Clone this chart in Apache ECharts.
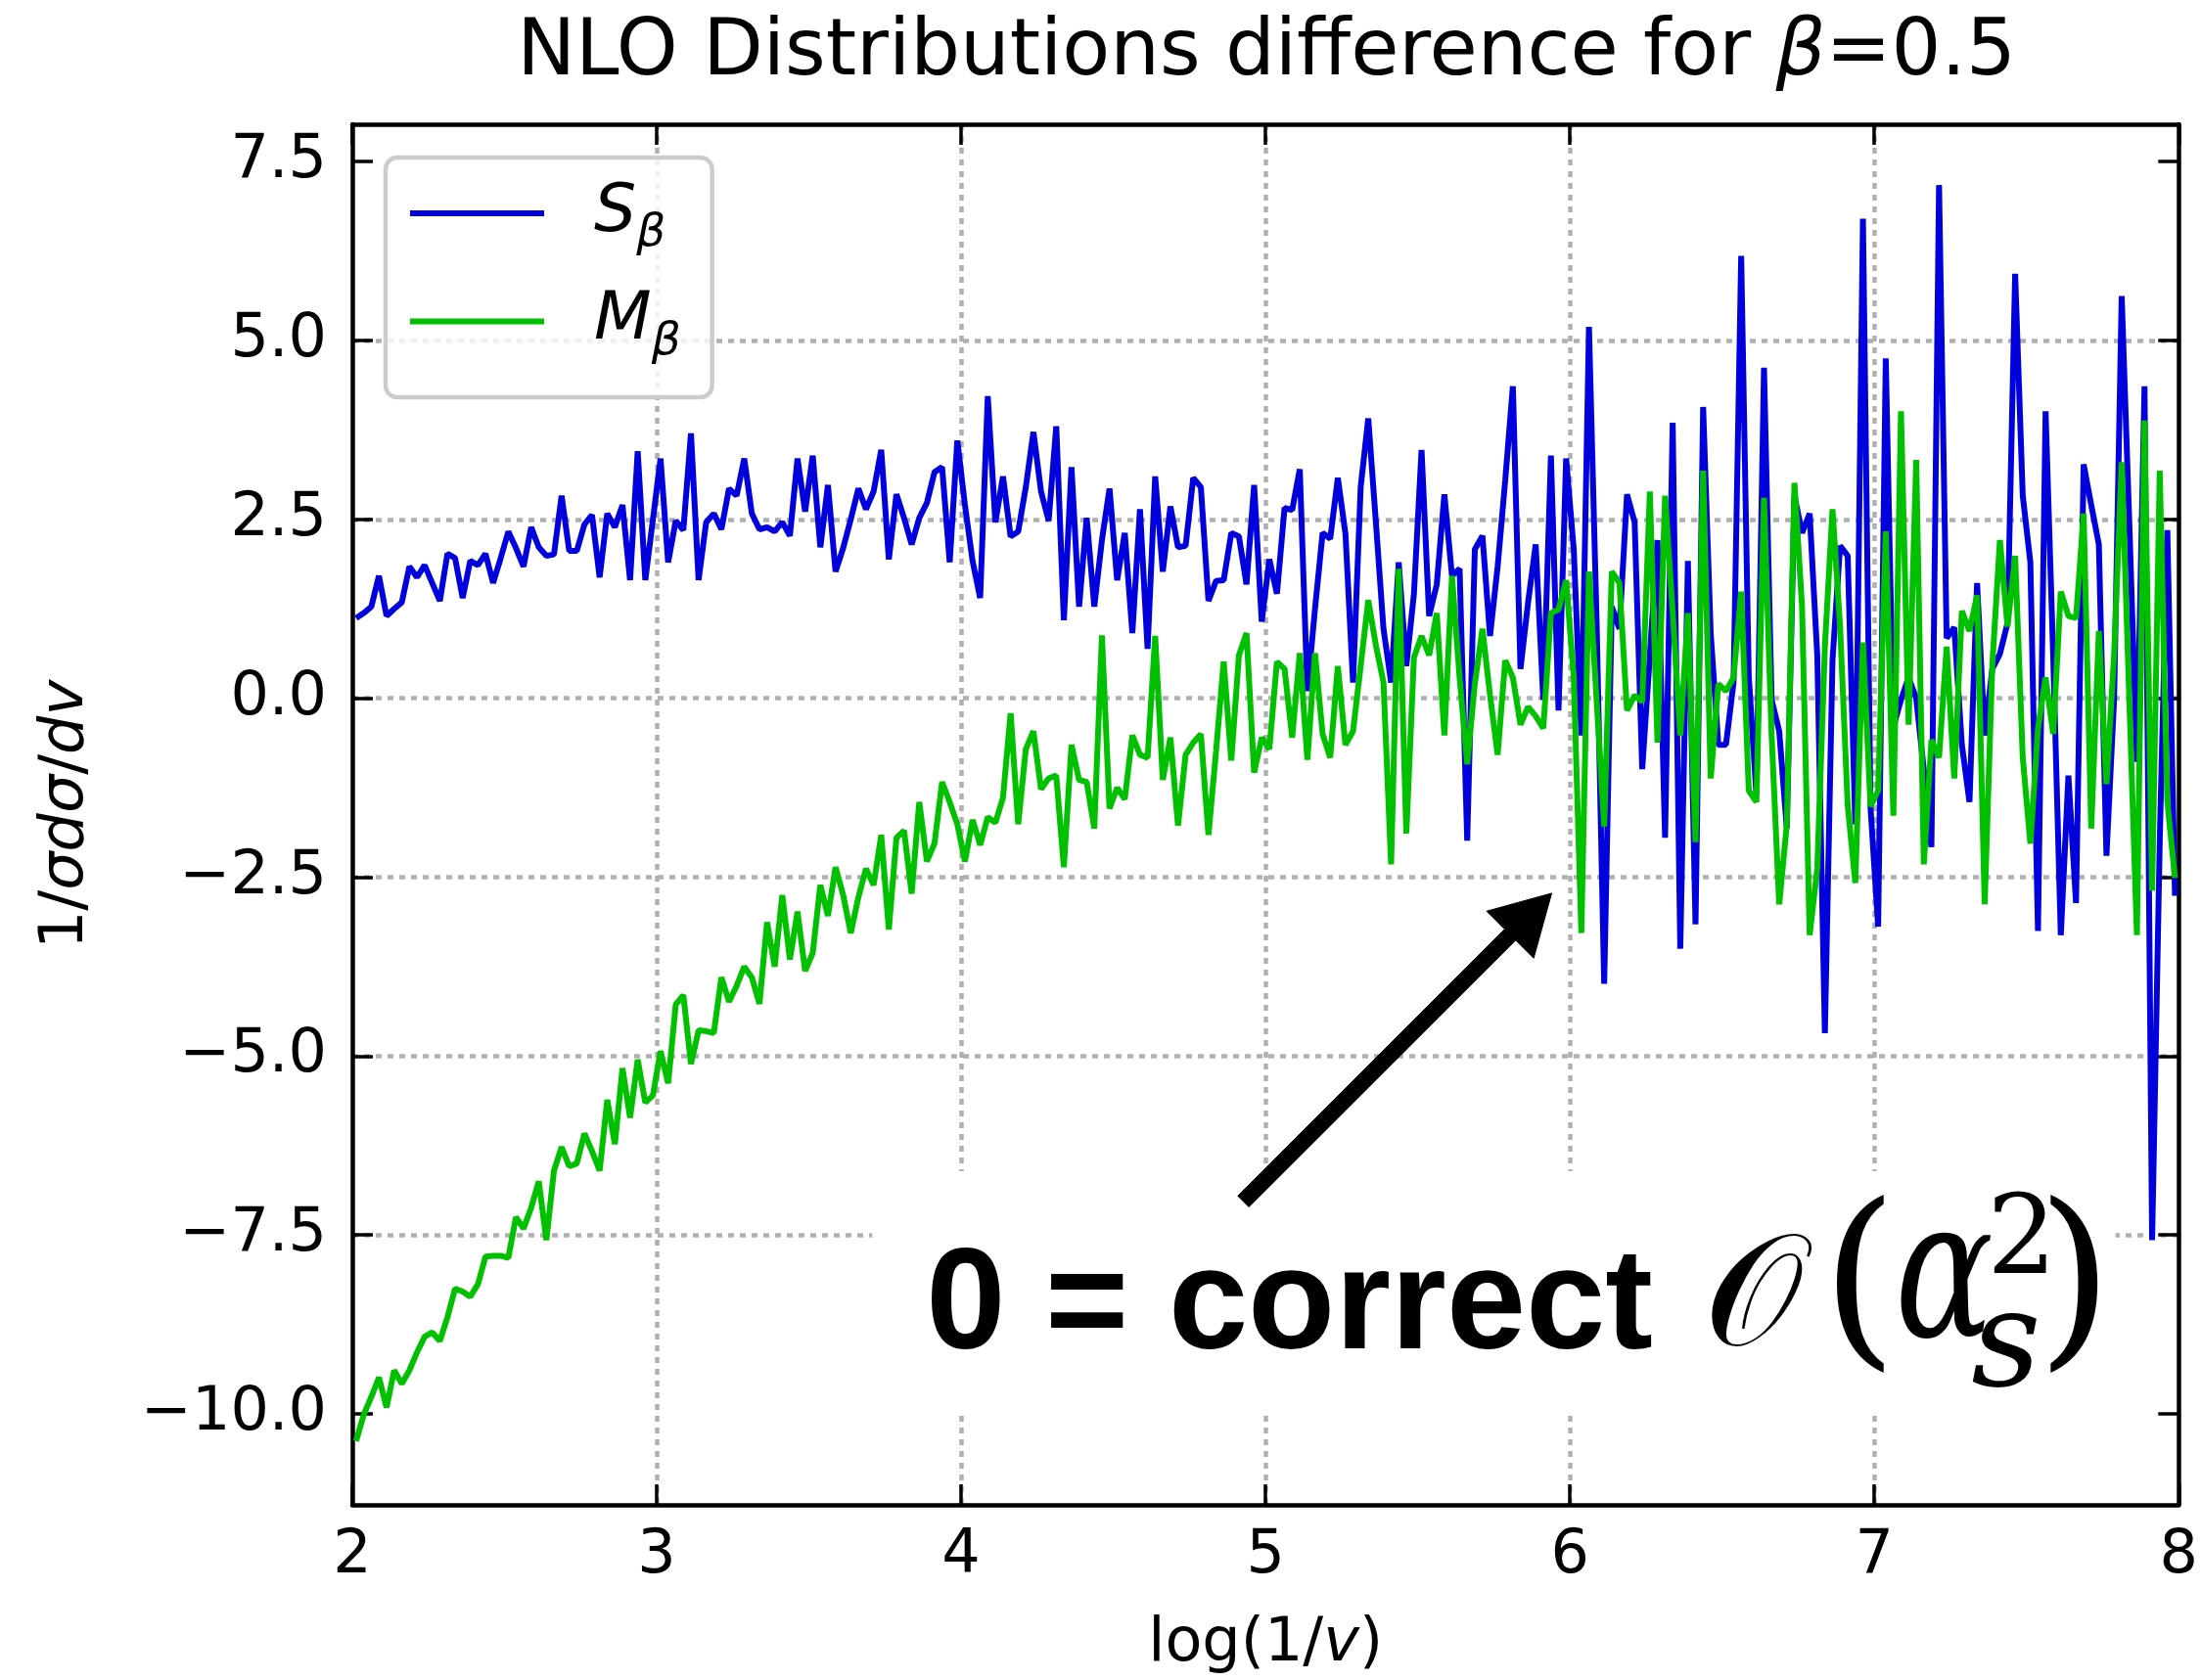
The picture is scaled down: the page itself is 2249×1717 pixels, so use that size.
<!DOCTYPE html>
<html><head><meta charset="utf-8">
<script src="https://cdn.jsdelivr.net/npm/echarts@6/dist/echarts.min.js"></script>
<style>html,body{margin:0;padding:0;background:#fff;}#c{width:2249px;height:1717px;}</style>
</head><body><div id="c"></div>
<script>
// ---- data ----
const BIN_START = 2, BIN_WIDTH = 0.025;   // log(1/v) bins, values plotted at bin centres
const S_BETA = [
 1.12,1.19,1.28,1.71,1.15,1.25,1.34,1.84,1.69,1.86,
 1.61,1.36,2.02,1.96,1.40,1.92,1.86,2.02,1.61,1.96,
 2.33,2.10,1.84,2.39,2.11,1.99,2.01,2.83,2.06,2.06,
 2.43,2.56,1.69,2.58,2.39,2.70,1.65,3.45,1.65,2.50,
 3.35,1.90,2.48,2.35,3.70,1.65,2.46,2.58,2.36,2.93,
 2.83,3.35,2.58,2.36,2.39,2.33,2.46,2.27,3.35,2.61,
 3.39,2.11,2.98,1.77,2.10,2.50,2.93,2.64,2.89,3.47,
 1.94,2.85,2.52,2.15,2.52,2.73,3.16,3.23,1.90,3.60,
 2.70,1.92,1.40,4.22,2.46,3.10,2.26,2.33,2.95,3.72,
 2.89,2.48,3.80,1.09,3.23,1.28,2.52,1.28,2.21,2.93,
 1.65,2.31,0.91,2.64,0.69,3.10,1.77,2.68,2.11,2.13,
 3.08,2.95,1.36,1.64,1.65,2.31,2.26,1.59,2.98,1.07,
 1.94,1.46,2.66,2.63,3.20,0.10,1.25,2.31,2.23,3.08,
 2.30,0.22,2.95,3.91,2.46,0.97,0.22,1.90,0.45,1.46,
 3.47,1.15,1.59,2.85,1.71,1.81,-1.99,2.08,2.27,0.87,
 1.84,3.05,4.36,0.41,1.34,2.15,-0.02,3.39,-0.17,3.35,
 2.08,-0.52,5.19,1.09,-3.99,1.28,0.97,2.85,2.46,-0.99,
 0.60,2.21,-1.95,3.85,-3.50,1.92,-3.16,4.07,0.90,-0.65,
 -0.65,0.22,6.18,0.30,-1.34,4.62,-0.02,-0.46,-1.82,2.83,
 2.31,2.58,0.60,-4.68,0.53,2.13,1.99,-1.76,6.70,-1.53,
 -3.19,4.75,-0.40,-0.02,0.29,0.00,-1.00,-2.08,7.17,0.84,
 0.99,-0.65,-1.45,1.61,-0.52,0.41,0.62,1.05,5.93,2.83,
 1.90,-3.25,4.01,0.60,-3.31,-1.08,-2.86,3.27,2.70,2.15,
 -2.20,-0.02,5.62,2.46,-0.89,4.36,-7.57,-2.00,2.35,-2.76
];
const M_BETA = [
 -10.38,-10.01,-9.76,-9.49,-9.91,-9.39,-9.58,-9.39,-9.14,-8.92,
 -8.86,-8.98,-8.65,-8.25,-8.29,-8.36,-8.19,-7.80,-7.79,-7.79,
 -7.82,-7.25,-7.41,-7.12,-6.75,-7.57,-6.60,-6.27,-6.54,-6.50,
 -6.08,-6.33,-6.60,-5.61,-6.23,-5.17,-5.86,-5.05,-5.65,-5.55,
 -4.93,-5.38,-4.28,-4.15,-5.11,-4.64,-4.65,-4.68,-3.90,-4.24,
 -4.02,-3.75,-3.90,-4.27,-3.13,-3.75,-2.75,-3.65,-2.98,-3.81,
 -3.56,-2.61,-3.04,-2.36,-2.75,-3.28,-2.78,-2.38,-2.61,-1.91,
 -3.23,-1.95,-1.85,-2.73,-1.45,-2.28,-2.03,-1.17,-1.45,-1.76,
 -2.28,-1.70,-2.05,-1.66,-1.74,-1.39,-0.21,-1.76,-0.71,-0.46,
 -1.27,-1.12,-1.08,-2.36,-0.65,-1.14,-1.17,-1.82,0.88,-1.54,
 -1.25,-1.41,-0.52,-0.79,-0.83,0.87,-1.14,-0.55,-1.78,-0.79,
 -0.62,-0.50,-1.91,-0.74,0.51,-0.87,0.60,0.91,-1.04,-0.55,
 -0.71,0.51,0.41,-0.55,0.63,-0.86,0.63,-0.50,-0.83,0.45,
 -0.65,-0.46,0.45,1.37,0.74,0.22,-2.32,1.81,-1.89,0.57,
 0.87,0.60,1.19,-0.52,1.71,0.29,-0.92,0.20,0.97,0.04,
 -0.79,0.53,0.29,-0.37,-0.12,-0.25,-0.42,1.19,1.24,1.65,
 0.29,-3.28,1.77,-0.02,-1.79,1.77,1.61,-0.17,0.04,-0.05,
 2.89,-0.62,2.83,1.20,-0.52,1.19,-2.01,3.18,-1.12,0.20,
 0.10,0.29,1.49,-1.29,-1.45,2.80,-0.52,-2.88,-1.76,3.01,
 1.28,-3.31,-2.38,0.72,2.64,1.00,-1.50,-2.58,0.78,-1.51,
 -1.29,2.33,-1.64,4.01,-0.37,3.33,-2.32,-0.58,-0.83,0.72,
 -1.12,1.22,0.94,1.44,-2.88,0.47,2.21,1.00,1.99,-0.83,
 -2.03,-0.42,0.29,-0.50,1.49,1.15,1.12,2.58,-1.82,0.94,
 -1.20,0.60,3.30,-0.02,-3.31,3.88,-2.69,3.18,-1.45,-2.51
];
const SERIES_NAMES = ['S', 'M'];
const X_RANGE = [2, 8];
const Y_RANGE = [-11.27, 8.02];
const X_TICKS = [2, 3, 4, 5, 6, 7, 8];
const Y_TICKS = [-10, -7.5, -5, -2.5, 0, 2.5, 5, 7.5];
// annotation anchors in data coordinates
const ARROW_TAIL = [4.927, -7.03];
const ARROW_TIP = [5.94, -2.724];
const ANNOT_TEXT_AT = [3.885, -9.218];
const ANNOT_BOX = [[3.708, -6.607], [7.792, -10.0]];

// ---- chart ----
const BLUE = '#0000dd', GREEN = '#00c000';
const FONT = "'DejaVu Sans'";
const chart = echarts.init(document.getElementById('c'));
const toPairs = vals => vals.map((v, i) => [BIN_START + BIN_WIDTH * (i + 0.5), v]);
const yFmt = v => (v < 0 ? '\u2212' : '') + Math.abs(v).toFixed(1);

const spine = { show: true, onZero: false, lineStyle: { color: '#000', width: 4.5 } };
const tick = { show: true, inside: true, length: 21, lineStyle: { color: '#000', width: 3.5 } };
const grid = { show: true, showMinLine: false, showMaxLine: false,
  lineStyle: { color: '#b0b0b0', width: 4.5, type: [6, 6] } };
const tickFont = { fontSize: 62, fontFamily: FONT, color: '#000' };

chart.setOption({
  animation: false,
  backgroundColor: '#ffffff',
  title: {
    text: '{a|NLO Distributions difference for }{b|β}{a|=0.5}',
    left: 1289, top: 10, textAlign: 'center',
    textStyle: { fontWeight: 'normal', rich: {
      a: { fontSize: 80, fontFamily: FONT, fontWeight: 'normal', color: '#000', lineHeight: 80 },
      b: { fontSize: 80, fontFamily: FONT, fontWeight: 'normal', fontStyle: 'italic', color: '#000', lineHeight: 80 }
    } }
  },
  legend: {
    data: SERIES_NAMES, orient: 'vertical', left: 394, top: 161,
    icon: 'rect', itemWidth: 137, itemHeight: 6, itemGap: 32,
    padding: [23, 32, 33, 25],
    backgroundColor: 'rgba(255,255,255,0.8)', borderColor: '#cccccc', borderWidth: 4.5, borderRadius: 12,
    formatter: n => '{m|' + n + '}{b|β}',
    textStyle: { rich: {
      m: { fontSize: 68, fontFamily: FONT, fontStyle: 'italic', color: '#000', lineHeight: 83, padding: [0, 0, 0, 46] },
      b: { fontSize: 47, fontFamily: FONT, fontStyle: 'italic', color: '#000', padding: [42, 0, 0, 0] }
    } }
  },
  grid: { left: 360, right: 19, top: 127, bottom: 179 },
  xAxis: [
    { type: 'value', position: 'bottom', min: X_RANGE[0], max: X_RANGE[1], interval: 1,
      axisLine: spine, axisTick: tick, splitLine: grid,
      axisLabel: Object.assign({ margin: 22, formatter: v => String(v) }, tickFont),
      name: '{r|log(1/}{i|v}{r|)}', nameLocation: 'middle', nameGap: 112,
      nameTextStyle: { rich: {
        r: { fontSize: 62, fontFamily: FONT, color: '#000' },
        i: { fontSize: 62, fontFamily: FONT, fontStyle: 'italic', color: '#000' } } } },
    { type: 'value', position: 'top', min: X_RANGE[0], max: X_RANGE[1], interval: 1,
      axisLine: spine, axisTick: tick, axisLabel: { show: false }, splitLine: { show: false } }
  ],
  yAxis: [
    { type: 'value', position: 'left', min: Y_RANGE[0], max: Y_RANGE[1],
      axisLine: spine, axisTick: Object.assign({ customValues: Y_TICKS }, tick), splitLine: grid,
      axisLabel: Object.assign({ margin: 26, customValues: Y_TICKS, formatter: yFmt }, tickFont),
      name: '{r|1/}{i|σdσ}{r|/}{i|dv}', nameLocation: 'middle', nameGap: 261, nameRotate: 90,
      nameTextStyle: { rich: {
        r: { fontSize: 62, fontFamily: FONT, color: '#000' },
        i: { fontSize: 62, fontFamily: FONT, fontStyle: 'italic', color: '#000' } } } },
    { type: 'value', position: 'right', min: Y_RANGE[0], max: Y_RANGE[1],
      axisLine: spine, axisTick: Object.assign({ customValues: Y_TICKS }, tick),
      axisLabel: { show: false, customValues: Y_TICKS }, splitLine: { show: false } }
  ],
  series: [
    { name: SERIES_NAMES[0], type: 'line', data: toPairs(S_BETA), symbol: 'none', color: BLUE,
      lineStyle: { color: BLUE, width: 6 }, itemStyle: { color: BLUE }, silent: true, z: 3 },
    { name: SERIES_NAMES[1], type: 'line', data: toPairs(M_BETA), symbol: 'none', color: GREEN,
      lineStyle: { color: GREEN, width: 6 }, itemStyle: { color: GREEN }, silent: true, z: 4 }
  ]
});

// ---- annotation: white text box, arrow and text ----
function px(pt) { return chart.convertToPixel({ xAxisIndex: 0, yAxisIndex: 0 }, pt); }
const b0 = px(ANNOT_BOX[0]), b1 = px(ANNOT_BOX[1]);
const T = px(ARROW_TAIL), P = px(ARROW_TIP);
const dx = P[0] - T[0], dy = P[1] - T[1], len = Math.hypot(dx, dy);
const u = [dx / len, dy / len], n = [-u[1], u[0]];
const HL = 60, HW = 34, SW = 8;
const B = [P[0] - u[0] * HL, P[1] - u[1] * HL];
const q = (base, k) => [base[0] + n[0] * k, base[1] + n[1] * k];
const arrowPts = [q(T, SW), q(B, SW), q(B, HW), P, q(B, -HW), q(B, -SW), q(T, -SW)];
const A = px(ANNOT_TEXT_AT);
const MID = 0.346; // canvas 'middle' baseline offset (em)
function txt(text, dxo, dyo, size, family, style, weight, sx) {
  return { type: 'text', z: 20, x: A[0] + dxo, y: A[1] + dyo - MID * size, scaleX: sx || 1, silent: true,
    style: { text: text, x: 0, y: 0, fill: '#000', align: 'left', verticalAlign: 'middle',
      font: (style || 'normal') + ' ' + (weight || 'normal') + ' ' + size + 'px ' + family } };
}
chart.setOption({ graphic: [
  { type: 'rect', z: 1, silent: true, shape: { x: b0[0], y: b0[1], width: b1[0] - b0[0], height: b1[1] - b0[1] },
    style: { fill: '#ffffff' } },
  { type: 'polygon', z: 20, silent: true, shape: { points: arrowPts }, style: { fill: '#000', stroke: '#000', lineWidth: 1 } },
  txt('0 = correct', 0, 0, 146, "'Liberation Sans'", 'normal', 'bold'),
  txt('\u{1D4AA}', 795, 0, 160, "'DejaVu Serif','DejaVu Sans'", 'normal'),
  txt('(', 915, 1, 199, "'DejaVu Serif'", 'normal'),
  txt('α', 990, -5, 199, "'DejaVu Serif'", 'italic', 'normal', 0.75),
  txt('s', 1068, 40, 139, "'DejaVu Serif'", 'italic'),
  txt('2', 1084, -77, 112, "'DejaVu Serif'", 'normal'),
  txt(')', 1135, 1, 199, "'DejaVu Serif'", 'normal')
] });
</script></body></html>
